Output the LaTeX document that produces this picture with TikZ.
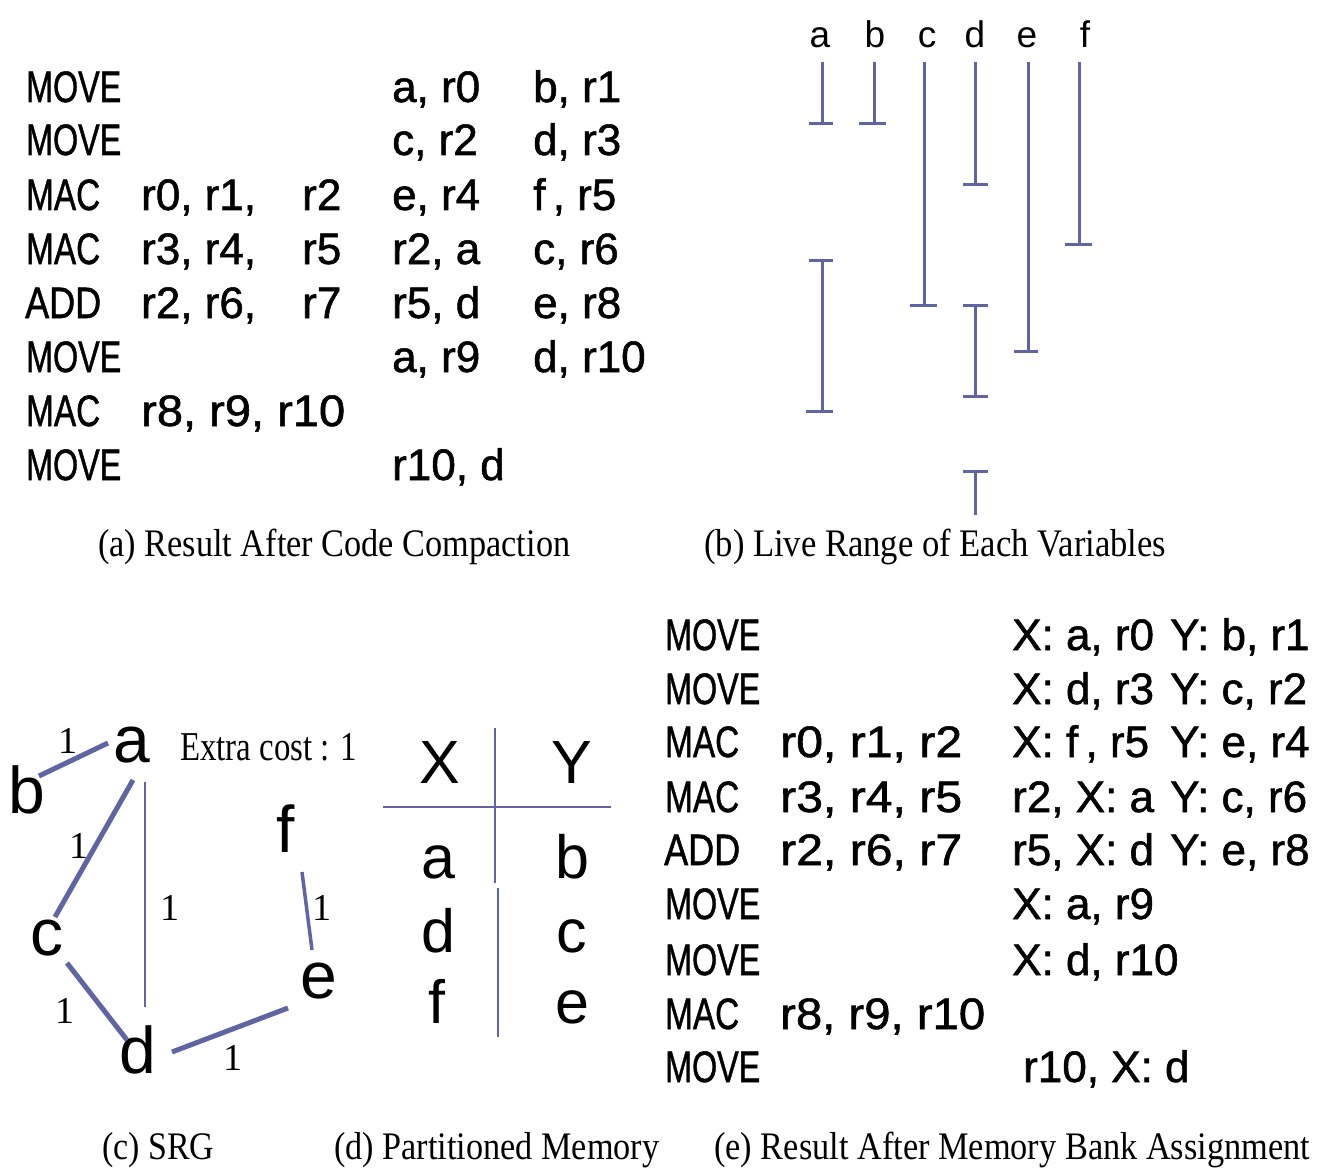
\documentclass[tikz,border=0pt]{standalone}
\usepackage{fontspec}
\setmainfont{Liberation Serif}
\newfontfamily\codefont[FakeBold=1.2]{Liberation Sans}
\newfontfamily\letterfont{Liberation Sans}
\definecolor{lc}{RGB}{96,100,162}
% squeeze a box to a given width, keeping its height
\newcommand\fitto[2]{\resizebox{#1pt}{\height}{#2}}

\begin{document}
\begin{tikzpicture}[x=1pt,y=-1pt,
  code/.style={anchor=base west, inner sep=0pt, font=\codefont\fontsize{44}{44}\selectfont},
  lbl/.style={anchor=base, inner sep=0pt, font=\letterfont\fontsize{37}{37}\selectfont},
  vtx/.style={anchor=base, inner sep=0pt, font=\letterfont\fontsize{66}{66}\selectfont},
  cell/.style={anchor=base, inner sep=0pt, font=\letterfont\fontsize{61}{61}\selectfont},
  wgt/.style={anchor=base, inner sep=0pt, font=\fontsize{38}{38}\selectfont},
  capt/.style={anchor=base west, inner sep=0pt, font=\fontsize{39}{39}\selectfont},
  live/.style={draw=lc, line width=3pt},
  edge/.style={draw=lc, line width=5pt},
  thinedge/.style={draw=lc, line width=2.2pt},
  rule/.style={draw=lc, line width=2.5pt}]

\fill[white] (0,0) rectangle (1317,1169);
\path[use as bounding box] (0,0) rectangle (1317,1169);

% ---------------- (a) code after compaction ----------------
\node[code] (a1o) at (26,102) {\fitto{95}{MOVE}};
\node[code] (a1c) at (392,102) {a, r0};
\node[code] (a1d) at (533,102) {b, r1};
\node[code] (a2o) at (26,155) {\fitto{95}{MOVE}};
\node[code] (a2c) at (392,155) {c, r2};
\node[code] (a2d) at (533,155) {d, r3};
\node[code] (a3o) at (26,210) {\fitto{74}{MAC}};
\node[code] (a3a) at (141,210) {r0, r1,};
\node[code] (a3b) at (302,210) {r2};
\node[code] (a3c) at (392,210) {e, r4};
\node[code] (a3d) at (533,210) {f\,, r5};
\node[code] (a4o) at (26,264) {\fitto{74}{MAC}};
\node[code] (a4a) at (141,264) {r3, r4,};
\node[code] (a4b) at (302,264) {r5};
\node[code] (a4c) at (392,264) {r2, a};
\node[code] (a4d) at (533,264) {c, r6};
\node[code] (a5o) at (25,318) {\fitto{76}{ADD}};
\node[code] (a5a) at (141,318) {r2, r6,};
\node[code] (a5b) at (302,318) {r7};
\node[code] (a5c) at (392,318) {r5, d};
\node[code] (a5d) at (533,318) {e, r8};
\node[code] (a6o) at (26,372) {\fitto{95}{MOVE}};
\node[code] (a6c) at (392,372) {a, r9};
\node[code] (a6d) at (533,372) {d, r10};
\node[code] (a7o) at (26,426) {\fitto{74}{MAC}};
\node[code] (a7a) at (141,426) {\fitto{204}{r8, r9, r10}};
\node[code] (a8o) at (26,480) {\fitto{95}{MOVE}};
\node[code] (a8c) at (392,480) {r10, d};
\node[capt] (capa) at (98,556) {\fitto{472}{(a) Result After Code Compaction}};

% ---------------- (b) live ranges ----------------
\node[lbl] (va) at (820,48) {a};
\node[lbl] (vb) at (875,48) {b};
\node[lbl] (vc) at (927,48) {c};
\node[lbl] (vd) at (975,48) {d};
\node[lbl] (ve) at (1027,48) {e};
\node[lbl] (vf) at (1085,48) {f};
% a
\draw[live] (822,62) -- (822,124);
\draw[live] (809,124) -- (833,124);
\draw[live] (809,260) -- (833,260);
\draw[live] (822,260) -- (822,411);
\draw[live] (806,411) -- (833,411);
% b
\draw[live] (874,62) -- (874,124);
\draw[live] (859,124) -- (886,124);
% c
\draw[live] (924,62) -- (924,305);
\draw[live] (910,305) -- (937,305);
% d
\draw[live] (975,62) -- (975,185);
\draw[live] (963,185) -- (988,185);
\draw[live] (963,305) -- (988,305);
\draw[live] (975,305) -- (975,396);
\draw[live] (963,396) -- (988,396);
\draw[live] (963,471) -- (988,471);
\draw[live] (975,471) -- (975,515);
% e
\draw[live] (1028,62) -- (1028,351);
\draw[live] (1014,351) -- (1038,351);
% f
\draw[live] (1079,62) -- (1079,244);
\draw[live] (1065,244) -- (1092,244);
\node[capt] (capb) at (704,556) {\fitto{462}{(b) Live Range of Each Variables}};

% ---------------- (c) SRG ----------------
\node[vtx] (a) at (132,762) {a};
\node[vtx] (b) at (27,813) {b};
\node[vtx] (c) at (47,955) {c};
\node[vtx] (d) at (138,1073) {d};
\node[vtx] (e) at (319,998) {e};
\node[vtx] (f) at (286,852) {f};
\draw[edge] ([shift={(12,-37)}]b.base) -- ([shift={(-24,-19)}]a.base);
\draw[edge] ([shift={(1,18)}]a.base) -- ([shift={(8,-38)}]c.base);
\draw[thinedge] ([shift={(13,20)}]a.base) -- ([shift={(7,-66)}]d.base);
\draw[edge] ([shift={(20,8)}]c.base) -- ([shift={(-11,-33)}]d.base);
\draw[edge] ([shift={(34,-21)}]d.base) -- ([shift={(-31,10)}]e.base);
\draw[line width=3.5pt, draw=lc] ([shift={(16,20)}]f.base) -- ([shift={(-7,-48)}]e.base);
\node[wgt] (wba) at (68,753) {1};
\node[wgt] (wac) at (79,858) {1};
\node[wgt] (wad) at (170,920) {1};
\node[wgt] (wcd) at (65,1023) {1};
\node[wgt] (wde) at (233,1070) {1};
\node[wgt] (wfe) at (322,920) {1};
\node[capt, font=\fontsize{41}{41}\selectfont] (extra) at (180,760) {\fitto{177}{Extra cost : 1}};
\node[capt] (capc) at (102,1159) {\fitto{112}{(c) SRG}};

% ---------------- (d) partitioned memory ----------------
\draw[rule] (383,807) -- (611,807);
\draw[rule] (495,728) -- (495,883);
\draw[rule] (498,888) -- (498,1037);
\node[cell] (mx) at (440,783) {X};
\node[cell] (my) at (572,783) {Y};
\node[cell] (m1) at (438,878) {a};
\node[cell] (m2) at (572,878) {b};
\node[cell] (m3) at (438,952) {d};
\node[cell] (m4) at (572,952) {c};
\node[cell] (m5) at (437,1023) {f};
\node[cell] (m6) at (572,1023) {e};
\node[capt] (capd) at (334,1159) {\fitto{325}{(d) Partitioned Memory}};

% ---------------- (e) code after bank assignment ----------------
\node[code] (e1o) at (665,650) {\fitto{95}{MOVE}};
\node[code] (e1c) at (1012,650) {X: a, r0};
\node[code] (e1d) at (1170,650) {Y: b, r1};
\node[code] (e2o) at (665,704) {\fitto{95}{MOVE}};
\node[code] (e2c) at (1012,704) {X: d, r3};
\node[code] (e2d) at (1170,704) {Y: c, r2};
\node[code] (e3o) at (665,757) {\fitto{74}{MAC}};
\node[code] (e3a) at (780,757) {\fitto{182}{r0, r1, r2}};
\node[code] (e3c) at (1012,757) {X: f\,, r5};
\node[code] (e3d) at (1170,757) {Y: e, r4};
\node[code] (e4o) at (665,812) {\fitto{74}{MAC}};
\node[code] (e4a) at (780,812) {\fitto{182}{r3, r4, r5}};
\node[code] (e4c) at (1012,812) {r2, X: a};
\node[code] (e4d) at (1170,812) {Y: c, r6};
\node[code] (e5o) at (664,865) {\fitto{76}{ADD}};
\node[code] (e5a) at (780,865) {\fitto{182}{r2, r6, r7}};
\node[code] (e5c) at (1012,865) {r5, X: d};
\node[code] (e5d) at (1170,865) {Y: e, r8};
\node[code] (e6o) at (665,919) {\fitto{95}{MOVE}};
\node[code] (e6c) at (1012,919) {X: a, r9};
\node[code] (e7o) at (665,975) {\fitto{95}{MOVE}};
\node[code] (e7c) at (1012,975) {X: d, r10};
\node[code] (e8o) at (665,1029) {\fitto{74}{MAC}};
\node[code] (e8a) at (780,1029) {\fitto{205}{r8, r9, r10}};
\node[code] (e9o) at (665,1082) {\fitto{95}{MOVE}};
\node[code] (e9c) at (1023,1082) {r10, X: d};
\node[capt] (cape) at (714,1159) {\fitto{596}{(e) Result After Memory Bank Assignment}};
\end{tikzpicture}
\end{document}
